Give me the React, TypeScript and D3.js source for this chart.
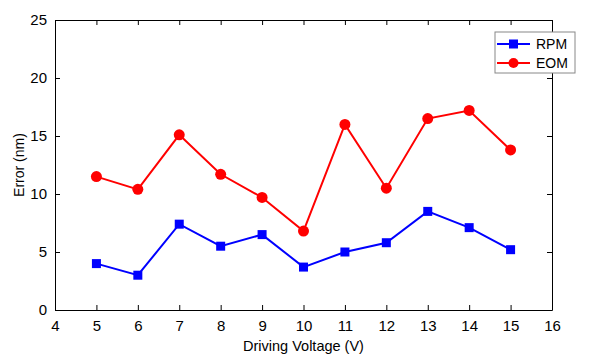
import * as d3 from 'd3';
import {useEffect, useRef} from 'react';

const width = 616;
const height = 356;

const voltages = [5, 6, 7, 8, 9, 10, 11, 12, 13, 14, 15];
const rpm = [4.0, 3.0, 7.4, 5.5, 6.5, 3.7, 5.0, 5.8, 8.5, 7.1, 5.2];
const eom = [11.5, 10.4, 15.1, 11.7, 9.7, 6.8, 16.0, 10.5, 16.5, 17.2, 13.8];
const xTicks = [4, 5, 6, 7, 8, 9, 10, 11, 12, 13, 14, 15, 16];
const yTicks = [0, 5, 10, 15, 20, 25];

const margin = {left: 55, right: 64, top: 20, bottom: 46};
const font = 'Arial, "Liberation Sans", sans-serif';

function App() {
  const refContainer = useRef<HTMLDivElement>(null);

  useEffect(() => {
    const x = d3
      .scaleLinear()
      .domain([4, 16])
      .range([margin.left, width - margin.right]);
    const y = d3
      .scaleLinear()
      .domain([0, 25])
      .range([height - margin.bottom, margin.top]);

    const svg = d3
      .select(refContainer.current)
      .append('svg')
      .attr('width', width)
      .attr('height', height)
      .style('position', 'absolute')
      .style('left', 0)
      .style('top', 0)
      .style('background', '#fff');

    const tickLen = 5;
    const styleAxis = (g: any) => {
      g.select('.domain').attr('stroke', '#000').attr('stroke-width', 1);
      g.selectAll('.tick line').attr('stroke', '#000');
      g.selectAll('.tick text')
        .attr('font-family', font)
        .attr('font-size', 15)
        .attr('fill', '#000');
    };

    // bottom axis, ticks inside
    svg
      .append('g')
      .attr('transform', `translate(0, ${y(0)})`)
      .call(
        d3.axisBottom(x).tickValues(xTicks).tickSizeInner(-tickLen).tickSizeOuter(0).tickPadding(10)
      )
      .call(styleAxis);

    svg
      .append('g')
      .attr('transform', `translate(0, ${y(25)})`)
      .call(
        d3.axisTop(x).tickValues(xTicks).tickSizeInner(-tickLen).tickSizeOuter(0).tickFormat(() => '')
      )
      .call(styleAxis);

    svg
      .append('g')
      .attr('transform', `translate(${x(4)}, 0)`)
      .call(
        d3.axisLeft(y).tickValues(yTicks).tickSizeInner(-tickLen).tickSizeOuter(0).tickPadding(8)
      )
      .call(styleAxis);

    svg
      .append('g')
      .attr('transform', `translate(${x(16)}, 0)`)
      .call(
        d3.axisRight(y).tickValues(yTicks).tickSizeInner(-tickLen).tickSizeOuter(0).tickFormat(() => '')
      )
      .call(styleAxis);

    const series = [
      {name: 'RPM', values: rpm, color: '#0000ff', shape: 'square'},
      {name: 'EOM', values: eom, color: '#ff0000', shape: 'circle'},
    ];

    const grp = svg.append('g');

    series.forEach(s => {
      const pts = voltages.map((v, i) => [v, s.values[i]] as [number, number]);
      const line = d3
        .line<[number, number]>()
        .x(d => x(d[0]))
        .y(d => y(d[1]));

      grp
        .append('path')
        .datum(pts)
        .attr('fill', 'none')
        .attr('stroke', s.color)
        .attr('stroke-width', 2)
        .attr('d', line);

      if (s.shape === 'square') {
        grp
          .selectAll(null)
          .data(pts)
          .enter()
          .append('rect')
          .attr('x', d => x(d[0]) - 4.5)
          .attr('y', d => y(d[1]) - 4.5)
          .attr('width', 9)
          .attr('height', 9)
          .attr('fill', s.color);
      } else {
        grp
          .selectAll(null)
          .data(pts)
          .enter()
          .append('circle')
          .attr('cx', d => x(d[0]))
          .attr('cy', d => y(d[1]))
          .attr('r', 5.5)
          .attr('fill', s.color);
      }
    });

    // legend
    const lg = svg.append('g').attr('transform', 'translate(495, 32)');
    lg.append('rect')
      .attr('width', 80)
      .attr('height', 41)
      .attr('fill', '#fff')
      .attr('stroke', '#888')
      .attr('stroke-width', 1);

    series.forEach((s, i) => {
      const cy = 12 + i * 19;
      lg.append('line')
        .attr('x1', 2)
        .attr('x2', 35)
        .attr('y1', cy)
        .attr('y2', cy)
        .attr('stroke', s.color)
        .attr('stroke-width', 2);
      if (s.shape === 'square') {
        lg.append('rect')
          .attr('x', 18.5 - 4.5)
          .attr('y', cy - 4.5)
          .attr('width', 9)
          .attr('height', 9)
          .attr('fill', s.color);
      } else {
        lg.append('circle')
          .attr('cx', 18.5)
          .attr('cy', cy)
          .attr('r', 5)
          .attr('fill', s.color);
      }
      lg.append('text')
        .attr('x', 41)
        .attr('y', cy + 5)
        .attr('font-family', font)
        .attr('font-size', 14)
        .text(s.name);
    });

    // axis titles
    svg
      .append('text')
      .attr('x', (x(4) + x(16)) / 2)
      .attr('y', 351)
      .attr('text-anchor', 'middle')
      .attr('font-family', font)
      .attr('font-size', 14.5)
      .text('Driving Voltage (V)');

    svg
      .append('text')
      .attr('transform', `translate(24, ${y(12.5)}) rotate(-90)`)
      .attr('text-anchor', 'middle')
      .attr('font-family', font)
      .attr('font-size', 14)
      .text('Error (nm)');

    return () => {
      svg.remove();
    };
  }, []);

  return <div ref={refContainer}></div>;
}

export default App;
